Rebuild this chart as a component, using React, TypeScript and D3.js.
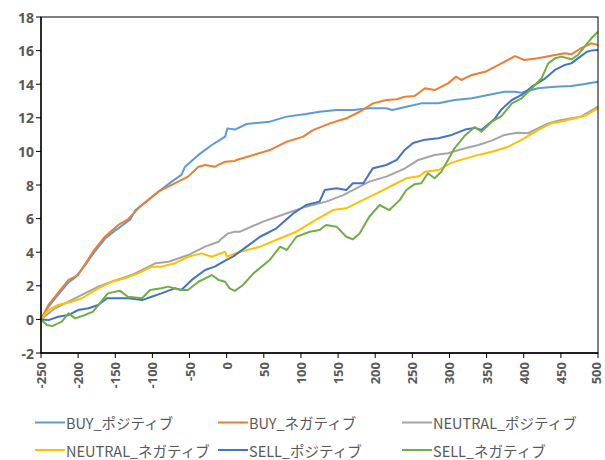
import React from "react";
import * as d3 from "d3";

const seriesNames = ["BUY_ポジティブ", "BUY_ネガティブ", "NEUTRAL_ポジティブ", "NEUTRAL_ネガティブ", "SELL_ポジティブ", "SELL_ネガティブ"];
const seriesColors = ["#5B9BD5", "#ED7D31", "#A5A5A5", "#FFC000", "#4472C4", "#70AD47"];

const buyPos: [number, number][] = [[-250,0],[-240,0.75],[-231,1.25],[-213,2.2],[-204,2.5],[-191,3.2],[-180,3.9],[-164,4.8],[-150,5.3],[-146,5.42],[-130,5.95],[-123,6.5],[-106,7.1],[-92,7.6],[-74,8.2],[-61,8.6],[-56,9.09],[-38,9.79],[-20,10.38],[-2,10.88],[1,11.37],[11,11.3],[27,11.63],[58,11.77],[81,12.07],[107,12.23],[125,12.36],[148,12.46],[170,12.46],[192,12.57],[215,12.57],[223,12.46],[242,12.66],[262,12.86],[285,12.86],[307,13.06],[330,13.16],[352,13.36],[374,13.55],[388,13.55],[397,13.49],[419,13.76],[442,13.85],[464,13.89],[482,14.01],[500,14.15]];
const buyNeg: [number, number][] = [[-250,0],[-240,0.86],[-213,2.35],[-200,2.64],[-180,4.03],[-164,4.92],[-146,5.62],[-133,5.95],[-119,6.61],[-92,7.6],[-70,8.1],[-52,8.5],[-38,9.09],[-29,9.19],[-16,9.09],[-2,9.39],[11,9.43],[13,9.49],[36,9.79],[58,10.08],[81,10.58],[103,10.88],[116,11.27],[139,11.67],[161,11.97],[179,12.36],[197,12.86],[215,13.06],[229,13.1],[240,13.26],[253,13.3],[267,13.76],[280,13.65],[298,14.05],[309,14.45],[316,14.25],[330,14.55],[348,14.74],[370,15.24],[388,15.67],[401,15.44],[419,15.54],[442,15.74],[455,15.84],[464,15.78],[477,16.14],[491,16.43],[500,16.33]];
const neutralPos: [number, number][] = [[-250,0],[-231,0.66],[-209,1.15],[-191,1.55],[-173,1.95],[-155,2.24],[-128,2.64],[-96,3.34],[-78,3.43],[-52,3.83],[-29,4.33],[-11,4.62],[-9,4.73],[2,5.12],[11,5.22],[18,5.22],[49,5.82],[81,6.32],[107,6.71],[134,7.01],[157,7.4],[170,7.7],[192,8.2],[215,8.5],[235,8.89],[240,8.99],[258,9.49],[280,9.79],[298,9.89],[316,10.13],[339,10.38],[357,10.64],[374,10.98],[392,11.11],[406,11.08],[419,11.37],[433,11.67],[446,11.83],[464,11.97],[477,12.07],[488,12.36],[500,12.66]];
const neutralNeg: [number, number][] = [[-250,0],[-240,0.56],[-227,0.86],[-209,1.05],[-195,1.26],[-173,1.85],[-155,2.24],[-137,2.45],[-119,2.74],[-101,3.14],[-88,3.14],[-70,3.34],[-52,3.73],[-34,3.93],[-20,3.73],[-2,4.03],[0,3.73],[18,4.03],[45,4.33],[72,4.83],[94,5.22],[116,5.82],[143,6.51],[161,6.61],[179,7.01],[202,7.5],[224,8.0],[242,8.4],[260,8.54],[267,8.79],[285,8.89],[303,9.33],[330,9.69],[357,9.98],[379,10.28],[397,10.68],[419,11.27],[437,11.67],[455,11.83],[469,11.97],[485,12.17],[500,12.57]];
const sellPos: [number, number][] = [[-250,0],[-240,-0.04],[-227,0.16],[-213,0.26],[-200,0.56],[-186,0.66],[-173,0.86],[-161,1.26],[-150,1.26],[-132,1.26],[-114,1.15],[-101,1.35],[-88,1.55],[-70,1.85],[-61,1.75],[-47,2.35],[-29,2.94],[-16,3.14],[-2,3.5],[9,3.75],[27,4.33],[45,4.92],[67,5.42],[90,6.32],[107,6.81],[125,7.01],[132,7.7],[148,7.8],[161,7.7],[170,8.1],[184,8.1],[191,8.6],[197,9.0],[215,9.19],[229,9.49],[240,10.1],[251,10.5],[267,10.7],[285,10.78],[303,10.98],[321,11.3],[334,11.4],[343,11.27],[361,11.95],[370,12.5],[384,13.06],[397,13.36],[411,13.85],[429,14.35],[442,14.85],[455,15.14],[464,15.24],[473,15.54],[485,15.93],[491,16.0],[500,16.04]];
const sellNeg: [number, number][] = [[-250,0],[-242,-0.33],[-235,-0.4],[-222,-0.13],[-213,0.36],[-204,0.06],[-191,0.26],[-180,0.46],[-169,1.05],[-160,1.55],[-144,1.71],[-133,1.35],[-114,1.26],[-103,1.75],[-88,1.85],[-79,1.95],[-61,1.75],[-52,1.75],[-38,2.24],[-20,2.64],[-11,2.35],[-2,2.24],[4,1.85],[11,1.7],[22,2.05],[36,2.74],[58,3.54],[72,4.33],[81,4.13],[94,4.92],[112,5.22],[125,5.32],[134,5.62],[148,5.52],[161,4.92],[170,4.77],[179,5.12],[192,6.11],[206,6.81],[219,6.51],[233,7.1],[242,7.7],[253,8.05],[262,8.1],[271,8.7],[280,8.4],[289,8.79],[298,9.49],[307,10.2],[321,10.95],[334,11.45],[343,11.17],[357,11.77],[370,12.1],[384,12.86],[397,13.16],[411,13.76],[424,14.35],[433,15.24],[442,15.54],[451,15.64],[464,15.48],[473,15.74],[482,16.23],[491,16.73],[500,17.12]];

const seriesData = [buyPos, buyNeg, neutralPos, neutralNeg, sellPos, sellNeg];

const xTicks = [-250, -200, -150, -100, -50, 0, 50, 100, 150, 200, 250, 300, 350, 400, 450, 500];
const yTicks = [-2, 0, 2, 4, 6, 8, 10, 12, 14, 16, 18];

const W = 605, H = 460;
const left = 41, right = 598, top = 17, bottom = 353;

export default function App() {
  const x = d3.scaleLinear().domain([-250, 500]).range([left, right]);
  const y = d3.scaleLinear().domain([-2, 18]).range([bottom, top]);
  const line = d3.line<[number, number]>().x(d => x(d[0])).y(d => y(d[1]));
  const axisFont = "'Noto Sans', 'DejaVu Sans', sans-serif";
  const legendFont = "'Noto Sans CJK JP', 'Noto Sans', sans-serif";
  const legendCols = [35, 218, 402];
  const legendRows = [422.5, 450];
  return (
    <svg width={W} height={H} style={{ position: "absolute", left: 0, top: 0, background: "#fff" }}>
      <rect x={0} y={0} width={W} height={H} fill="#fff" />
      <g>
        {seriesData.map((d, i) => (
          <path key={i} d={line(d) || ""} fill="none" stroke={seriesColors[i]} strokeWidth={2} strokeLinejoin="round" />
        ))}
      </g>
      <rect x={left} y={top} width={right - left} height={bottom - top} fill="none" stroke="#000" strokeWidth={1} />
      <line x1={left} x2={left} y1={top} y2={bottom} stroke="#000" strokeWidth={1.3} />
      <line x1={left} x2={right} y1={bottom} y2={bottom} stroke="#000" strokeWidth={1.3} />
      {yTicks.map(t => (
        <g key={"y" + t}>
          <line x1={left - 5} x2={left} y1={y(t)} y2={y(t)} stroke="#000" strokeWidth={1} />
          <text x={34} y={y(t)} textAnchor="end" dominantBaseline="central" fontFamily={axisFont} fontWeight="bold" fontSize={14} fill="#595959">{t}</text>
        </g>
      ))}
      {xTicks.map(t => (
        <g key={"x" + t}>
          <line x1={x(t)} x2={x(t)} y1={bottom} y2={bottom + 5} stroke="#000" strokeWidth={1} />
          <text transform={`translate(${Math.min(x(t), W - 9.5)},${bottom + 9}) rotate(-90)`} textAnchor="end" dominantBaseline="central" fontFamily={axisFont} fontWeight="bold" fontSize={13} fill="#595959">{t}</text>
        </g>
      ))}
      {seriesNames.map((n, i) => {
        const cx = legendCols[i % 3];
        const cy = legendRows[Math.floor(i / 3)];
        return (
          <g key={n}>
            <line x1={cx} x2={cx + 30} y1={cy} y2={cy} stroke={seriesColors[i]} strokeWidth={2} />
            <text x={cx + 31} y={cy} dominantBaseline="central" fontFamily={legendFont} fontSize={14.5} fill="#595959">{n}</text>
          </g>
        );
      })}
    </svg>
  );
}
